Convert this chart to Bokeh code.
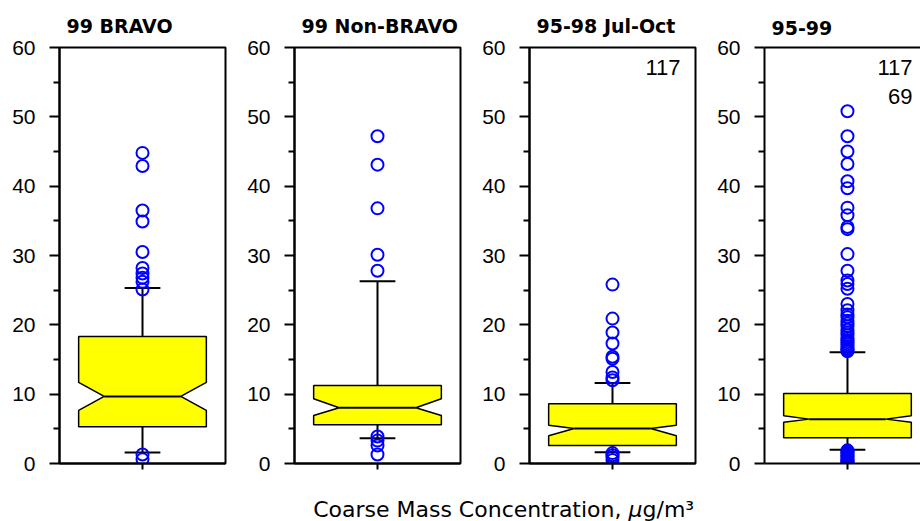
from bokeh.plotting import figure
from bokeh.layouts import row, column
from bokeh.models import (ColumnDataSource, FixedTicker, LinearAxis, Label, Range1d)
from bokeh.embed import file_html
from bokeh.resources import INLINE

# ---------------- data ----------------
titles = ["99 BRAVO", "99 Non-BRAVO", "95-98 Jul-Oct", "95-99"]
q1 = [5.3, 5.6, 2.6, 3.7]
q3 = [18.3, 11.25, 8.6, 10.1]
median = [9.67, 8.03, 5.05, 6.4]
notch_lo = [7.65, 6.92, 4.0, 5.96]
notch_hi = [11.7, 9.33, 5.53, 6.9]
whisker_lo = [1.6, 3.65, 1.63, 1.97]
whisker_hi = [25.3, 26.3, 11.6, 16.06]

outliers_99_bravo = [44.8, 42.9, 36.5, 34.9, 30.5, 28.2, 27.4, 26.8, 26.2, 25.1,
                     1.3, 0.6]
outliers_99_nonbravo = [47.2, 43.1, 36.8, 30.1, 27.8, 3.9, 3.3, 2.6, 1.3]
outliers_95_98_jul_oct = [25.8, 20.9, 18.9, 17.3, 15.4, 15.1, 13.2, 12.4, 12.0,
                          1.5, 1.2, 0.9, 0.5]
outliers_95_99 = [50.8, 47.2, 45.0, 43.2, 40.7, 39.7, 36.9, 35.8, 34.1, 33.8,
                  30.2, 27.8, 26.4, 25.9, 25.2, 23.0, 22.1, 21.5, 21.1, 20.6,
                  20.2, 19.8, 19.3, 18.9, 18.5, 18.1, 17.8, 17.5, 17.2, 16.9,
                  16.6, 16.4, 16.2, 1.9, 1.7, 1.5, 1.3, 1.1, 0.9, 0.7, 0.5,
                  0.3, 0.2]
outliers = [outliers_99_bravo, outliers_99_nonbravo, outliers_95_98_jul_oct,
            outliers_95_99]
corner_notes = [[], [], ["117"], ["117", "69"]]

y_ticks = [0, 10, 20, 30, 40, 50, 60]
x_label_main = "Coarse Mass Concentration,"
x_label_mu = "\u03bc"
x_label_unit = "g/m\u00b3"

# ---------------- styling ----------------
TICK_FONT = "Liberation Sans"
TITLE_FONT = "DejaVu Sans"
HALF = 0.5        # half box width (data units)
NOTCH = 0.2       # notch inset
CAP = 0.14        # whisker cap half width
FRAME_H = 416


def make_panel(i):
    last = (i == len(titles) - 1)
    fw = 156 if last else 166
    xr = Range1d(-0.65, 0.572) if last else Range1d(-0.65, 0.65)
    p = figure(frame_width=fw, frame_height=FRAME_H, x_range=xr,
               y_range=Range1d(0, 60), output_backend="svg",
               toolbar_location=None, min_border_left=59,
               min_border_right=0 if last else 10, min_border_top=47,
               min_border_bottom=20, background_fill_color="white",
               border_fill_color="white")
    p.title.text = titles[i]
    p.title.text_font = TITLE_FONT
    p.title.text_font_style = "bold"
    p.title.text_font_size = "19px"
    p.title.text_color = "black"
    p.title.align = "left"
    p.title.offset = 7
    p.title.standoff = 25 if last else 21
    p.xgrid.visible = False
    p.ygrid.visible = False

    ya = p.left[0]
    ya.ticker = FixedTicker(ticks=y_ticks,
                            minor_ticks=[(a + b) / 2 for a, b in zip(y_ticks[:-1], y_ticks[1:])])
    ya.axis_line_width = 2
    ya.axis_line_color = "black"
    ya.major_tick_out = 10
    ya.major_tick_in = 0
    ya.minor_tick_out = 6
    ya.minor_tick_in = 0
    ya.major_tick_line_width = 2
    ya.minor_tick_line_width = 2
    ya.major_label_text_font = TICK_FONT
    ya.major_label_text_font_size = "21px"
    ya.major_label_text_color = "black"
    ya.major_label_standoff = 14

    xa = p.below[0]
    xa.ticker = FixedTicker(ticks=[0])
    xa.major_label_overrides = {0: ""}
    xa.axis_line_width = 2
    xa.axis_line_color = "black"
    xa.major_tick_out = 6
    xa.major_tick_in = 0
    xa.major_tick_line_width = 2
    xa.minor_tick_out = 0
    xa.minor_tick_in = 0
    xa.major_label_standoff = 0

    if last:
        p.outline_line_color = None
        top = LinearAxis(ticker=FixedTicker(ticks=[]), axis_line_width=2,
                         axis_line_color="black", major_tick_out=0,
                         major_tick_in=0, minor_tick_out=0, minor_tick_in=0,
                         major_label_standoff=0)
        p.add_layout(top, "above")
    else:
        p.outline_line_color = "black"
        p.outline_line_width = 2
        p.outline_line_alpha = 1

    # whiskers
    p.segment(x0=[0, 0], y0=[q3[i], q1[i]], x1=[0, 0],
              y1=[whisker_hi[i], whisker_lo[i]], line_color="black", line_width=2)
    p.segment(x0=[-CAP, -CAP], y0=[whisker_hi[i], whisker_lo[i]],
              x1=[CAP, CAP], y1=[whisker_hi[i], whisker_lo[i]],
              line_color="black", line_width=2)

    # notched box
    xs = [-HALF, -HALF, -HALF + NOTCH, -HALF, -HALF, HALF, HALF, HALF - NOTCH, HALF, HALF]
    ys = [q1[i], notch_lo[i], median[i], notch_hi[i], q3[i], q3[i], notch_hi[i],
          median[i], notch_lo[i], q1[i]]
    p.patch(xs, ys, fill_color="#FFFF00", line_color="black", line_width=1.5)
    p.segment(x0=[-HALF + NOTCH], y0=[median[i]], x1=[HALF - NOTCH], y1=[median[i]],
              line_color="black", line_width=2)

    # outliers
    src = ColumnDataSource(dict(x=[0] * len(outliers[i]), y=outliers[i]))
    p.scatter("x", "y", source=src, marker="circle", size=12, fill_color=None,
              line_color="#0000FF", line_width=2)

    # corner notes
    for k, note in enumerate(corner_notes[i]):
        lab = Label(x=xr.end, y=60, text=note, text_align="right",
                    text_baseline="top", x_offset=-15 if not last else -8,
                    y_offset=-12 - 29 * k, text_font=TICK_FONT,
                    text_font_size="22px", text_color="black")
        p.add_layout(lab)
    return p


panels = [make_panel(i) for i in range(len(titles))]

lab_fig = figure(width=920, height=38, x_range=Range1d(0, 920), y_range=Range1d(0, 38),
                 output_backend="svg", toolbar_location=None, min_border=0,
                 background_fill_color="white", border_fill_color="white")
lab_fig.axis.visible = False
lab_fig.grid.visible = False
lab_fig.outline_line_color = None
lab_fig.title.visible = False
for txt, xpos, style in [(x_label_main, 621, "normal"), (x_label_mu, 628, "italic"),
                         (x_label_unit, 642, "normal")]:
    lab_fig.add_layout(Label(x=xpos, y=12, text=txt,
                             text_align="right" if txt == x_label_main else "left",
                             text_baseline="middle", text_font="DejaVu Sans",
                             text_font_style=style, text_font_size="22px",
                             text_color="black"))

layout = column(row(*panels), lab_fig)

open("out.html", "w").write(file_html(layout, INLINE))
